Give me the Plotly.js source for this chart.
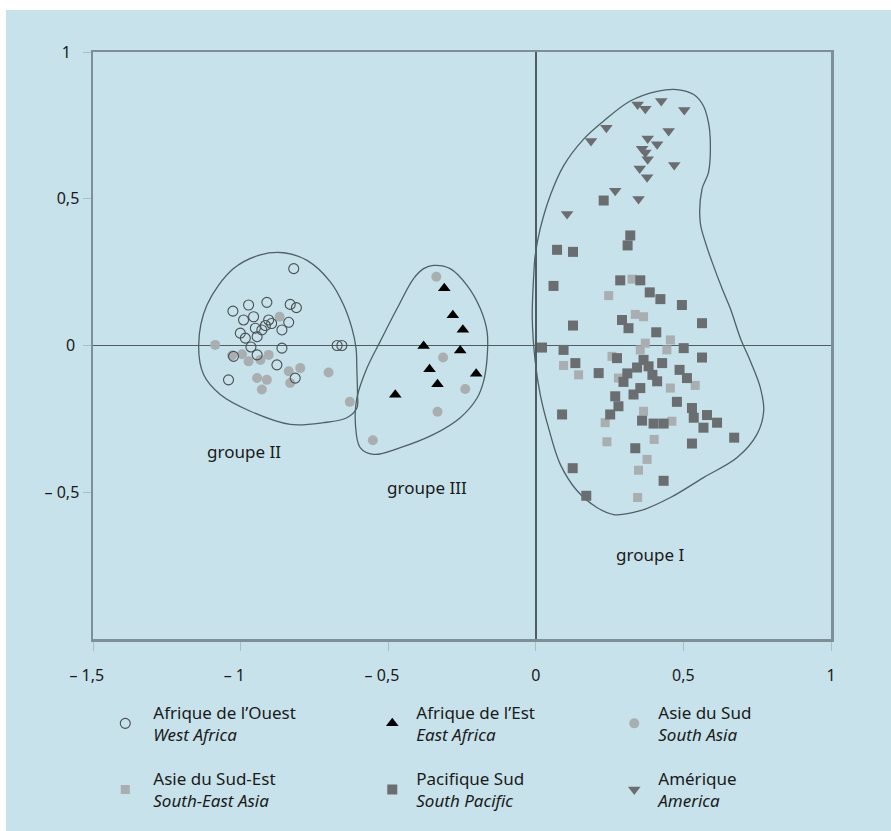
<!DOCTYPE html>
<html>
<head>
<meta charset="utf-8">
<script src="https://cdn.plot.ly/plotly-3.0.1.min.js"></script>
<style>
html,body{margin:0;padding:0;background:#ffffff;}
#chart{position:absolute;left:6px;top:10px;width:885px;height:821px;}
</style>
</head>
<body>
<div id="chart"></div>
<script>
// ---- Data ----
const xTickVals = [-1.5, -1, -0.5, 0, 0.5, 1];
const xTickText = ['\u2013 1,5\u00a0\u00a0\u00a0', '\u2013 1\u00a0\u00a0\u00a0', '\u2013 0,5\u00a0\u00a0\u00a0', '0', '0,5', '1'];
const yTickVals = [-0.5, 0, 0.5, 1];
const yTickText = ['\u2013 0,5', '0\u00a0', '0,5', '1\u00a0\u00a0'];

const westAfricaX = [-0.820,-1.026,-0.973,-0.911,-0.832,-0.811,-0.990,-0.956,-0.905,-0.837,-1.001,-0.950,-0.916,-0.860,-0.984,-0.944,-0.860,-0.673,-0.657,-1.024,-0.944,-0.877,-1.041,-0.815,-0.928,-0.895,-0.965];
const westAfricaY = [0.262,0.117,0.138,0.147,0.140,0.129,0.087,0.098,0.087,0.079,0.042,0.059,0.068,0.053,0.025,0.030,-0.009,0.000,0.000,-0.037,-0.032,-0.066,-0.117,-0.111,0.053,0.075,-0.005];

const eastAfricaX = [-0.310,-0.281,-0.247,-0.380,-0.256,-0.360,-0.333,-0.202,-0.476];
const eastAfricaY = [0.195,0.103,0.054,-0.002,-0.017,-0.081,-0.132,-0.096,-0.168];

const southAsiaX = [-0.868,-1.086,-1.029,-0.995,-0.973,-0.933,-0.905,-0.837,-0.798,-0.702,-0.944,-0.911,-0.928,-0.832,-0.630,-0.337,-0.314,-0.239,-0.333,-0.552];
const southAsiaY = [0.098,0.002,-0.034,-0.030,-0.054,-0.049,-0.032,-0.088,-0.077,-0.092,-0.111,-0.117,-0.150,-0.128,-0.192,0.234,-0.041,-0.148,-0.226,-0.323];

const seAsiaX = [0.247,0.326,0.337,0.365,0.456,0.444,0.371,0.258,0.094,0.145,0.354,0.280,0.456,0.540,0.365,0.461,0.235,0.401,0.241,0.377,0.348,0.345];
const seAsiaY = [0.170,0.226,0.106,0.098,0.019,-0.015,0.008,-0.037,-0.068,-0.100,-0.015,-0.111,-0.145,-0.136,-0.224,-0.258,-0.263,-0.320,-0.328,-0.388,-0.425,-0.518];

const southPacificX = [0.230,0.320,0.311,0.072,0.126,0.060,0.286,0.354,0.386,0.422,0.495,0.126,0.292,0.314,0.563,0.408,0.021,0.094,0.134,0.213,0.275,0.365,0.382,0.343,0.428,0.501,0.563,0.487,0.512,0.297,0.411,0.354,0.331,0.269,0.280,0.252,0.478,0.529,0.535,0.580,0.568,0.614,0.360,0.399,0.433,0.089,0.672,0.337,0.529,0.125,0.433,0.171,0.310,0.395];
const southPacificY = [0.494,0.375,0.341,0.326,0.319,0.203,0.222,0.222,0.181,0.158,0.138,0.068,0.087,0.059,0.076,0.045,-0.007,-0.015,-0.060,-0.094,-0.043,-0.049,-0.071,-0.075,-0.060,-0.009,-0.041,-0.083,-0.111,-0.124,-0.122,-0.145,-0.167,-0.173,-0.207,-0.235,-0.192,-0.213,-0.246,-0.237,-0.280,-0.263,-0.256,-0.266,-0.266,-0.235,-0.314,-0.350,-0.334,-0.418,-0.461,-0.512,-0.095,-0.100];

const americaX = [0.345,0.371,0.425,0.503,0.239,0.187,0.450,0.379,0.411,0.371,0.379,0.469,0.352,0.377,0.269,0.348,0.106,0.360];
const americaY = [0.821,0.807,0.833,0.802,0.742,0.697,0.731,0.705,0.686,0.658,0.635,0.615,0.603,0.573,0.527,0.499,0.448,0.670];

const group1X = [0.320,0.411,0.478,0.535,0.568,0.585,0.591,0.585,0.563,0.557,0.574,0.597,0.631,0.659,0.693,0.727,0.761,0.772,0.749,0.682,0.568,0.456,0.354,0.264,0.207,0.140,0.083,0.043,0.015,-0.002,-0.012,-0.007,-0.002,0.015,0.049,0.094,0.162,0.230,0.320];
const group1Y = [0.833,0.866,0.872,0.855,0.816,0.759,0.703,0.590,0.533,0.420,0.353,0.285,0.194,0.126,0.025,-0.054,-0.145,-0.224,-0.303,-0.382,-0.450,-0.518,-0.563,-0.576,-0.552,-0.495,-0.405,-0.280,-0.167,-0.054,0.093,0.239,0.307,0.398,0.511,0.612,0.703,0.765,0.833];

const group2X = [-0.854,-0.775,-0.696,-0.651,-0.623,-0.609,-0.606,-0.604,-0.606,-0.640,-0.719,-0.832,-0.967,-1.069,-1.125,-1.142,-1.114,-1.024,-0.933,-0.854];
const group2Y = [0.316,0.290,0.217,0.138,0.059,-0.009,-0.088,-0.167,-0.213,-0.246,-0.263,-0.269,-0.224,-0.167,-0.100,0.002,0.138,0.262,0.309,0.316];

const group3X = [-0.346,-0.290,-0.233,-0.188,-0.165,-0.165,-0.177,-0.199,-0.256,-0.346,-0.459,-0.549,-0.595,-0.611,-0.606,-0.572,-0.527,-0.470,-0.414,-0.380,-0.346];
const group3Y = [0.273,0.262,0.205,0.126,0.047,-0.043,-0.122,-0.179,-0.246,-0.303,-0.348,-0.371,-0.348,-0.269,-0.179,-0.077,0.014,0.126,0.228,0.262,0.273];

const groupLabels = ['groupe II', 'groupe III', 'groupe I'];
const groupLabelX = [-0.99, -0.368, 0.388];
const groupLabelY = [-0.36, -0.484, -0.711];

const seriesNames = [
  'Afrique de l\u2019Ouest<br><i>West Africa</i>',
  'Afrique de l\u2019Est<br><i>East Africa</i>',
  'Asie du Sud<br><i>South Asia</i>',
  'Asie du Sud-Est<br><i>South-East Asia</i>',
  'Pacifique Sud<br><i>South Pacific</i>',
  'Am\u00e9rique<br><i>America</i>'
];

// ---- Styles ----
const FONT = 'Noto Sans, sans-serif';
const BG = '#c7e2ea';
const hullLine = {color: '#4f6067', width: 1.3, shape: 'spline', smoothing: 1};
function hull(x, y) {
  return {x, y, type: 'scatter', mode: 'lines', line: hullLine, showlegend: false, hoverinfo: 'skip'};
}

const traces = [
  hull(group1X, group1Y), hull(group2X, group2Y), hull(group3X, group3Y),
  {x: southAsiaX, y: southAsiaY, name: seriesNames[2], type: 'scatter', mode: 'markers',
   marker: {symbol: 'circle', size: 10, color: '#a9aeb1'}, legend: 'legend3', legendgroup: 'sa', legendrank: 1},
  {x: seAsiaX, y: seAsiaY, name: seriesNames[3], type: 'scatter', mode: 'markers',
   marker: {symbol: 'square', size: 9, color: '#a9aeb1'}, legend: 'legend', legendgroup: 'sea', legendrank: 2},
  {x: southPacificX, y: southPacificY, name: seriesNames[4], type: 'scatter', mode: 'markers',
   marker: {symbol: 'square', size: 10, color: '#6a6e71'}, legend: 'legend2', legendgroup: 'sp', legendrank: 2},
  {x: americaX, y: americaY, name: seriesNames[5], type: 'scatter', mode: 'markers',
   marker: {symbol: 'triangle-down', size: 11, color: '#6a6e71'}, legend: 'legend3', legendgroup: 'am', legendrank: 2},
  {x: westAfricaX, y: westAfricaY, name: seriesNames[0], type: 'scatter', mode: 'markers',
   marker: {symbol: 'circle-open', size: 10, color: '#4a4f52', line: {width: 1.1}}, legend: 'legend', legendgroup: 'wa', legendrank: 1},
  {x: eastAfricaX, y: eastAfricaY, name: seriesNames[1], type: 'scatter', mode: 'markers',
   marker: {symbol: 'triangle-up', size: 11, color: '#000000'}, legend: 'legend2', legendgroup: 'ea', legendrank: 1}
];

function legendCfg(x, iw) {
  return {x: x, y: -0.095, xanchor: 'left', yanchor: 'top', orientation: 'v',
    bgcolor: 'rgba(0,0,0,0)', borderwidth: 0, itemwidth: iw,
    traceorder: 'grouped', tracegroupgap: 19, valign: 'middle',
    font: {family: FONT, size: 17, color: '#1a1a1a'}, itemclick: false};
}

const annotations = groupLabels.map((t, i) => ({
  x: groupLabelX[i], y: groupLabelY[i], xref: 'x', yref: 'y', text: t, showarrow: false,
  font: {family: FONT, size: 17, color: '#1a1a1a'}
}));

const tickFont = {family: FONT, size: 16, color: '#1a1a1a'};

const layout = {
  width: 885, height: 821,
  margin: {l: 87, r: 60, t: 42, b: 189},
  paper_bgcolor: BG, plot_bgcolor: BG,
  showlegend: true,
  font: {family: FONT, size: 14, color: '#1a1a1a'},
  xaxis: {range: [-1.5, 1], tickvals: xTickVals, ticktext: xTickText, showgrid: false,
    zeroline: true, zerolinecolor: '#4f5d62', zerolinewidth: 1.5,
    showline: true, mirror: true, linecolor: '#7d9098', linewidth: 2.5,
    ticks: 'outside', ticklen: 9, tickwidth: 1, tickcolor: '#a9bfc6', ticklabelstandoff: 11,
    tickfont: tickFont, fixedrange: true},
  yaxis: {range: [-1, 1], tickvals: yTickVals, ticktext: yTickText, showgrid: false,
    zeroline: true, zerolinecolor: '#4f5d62', zerolinewidth: 1.5,
    showline: true, mirror: true, linecolor: '#7d9098', linewidth: 2.5,
    ticks: 'outside', ticklen: 8, tickwidth: 1, tickcolor: '#a9bfc6', ticklabelstandoff: 0,
    tickfont: tickFont, fixedrange: true},
  legend: legendCfg(0.0058, 46),
  legend2: legendCfg(0.3730, 38),
  legend3: legendCfg(0.7009, 38),
  annotations: annotations
};

Plotly.newPlot('chart', traces, layout, {displayModeBar: false, staticPlot: true});
</script>
</body>
</html>
